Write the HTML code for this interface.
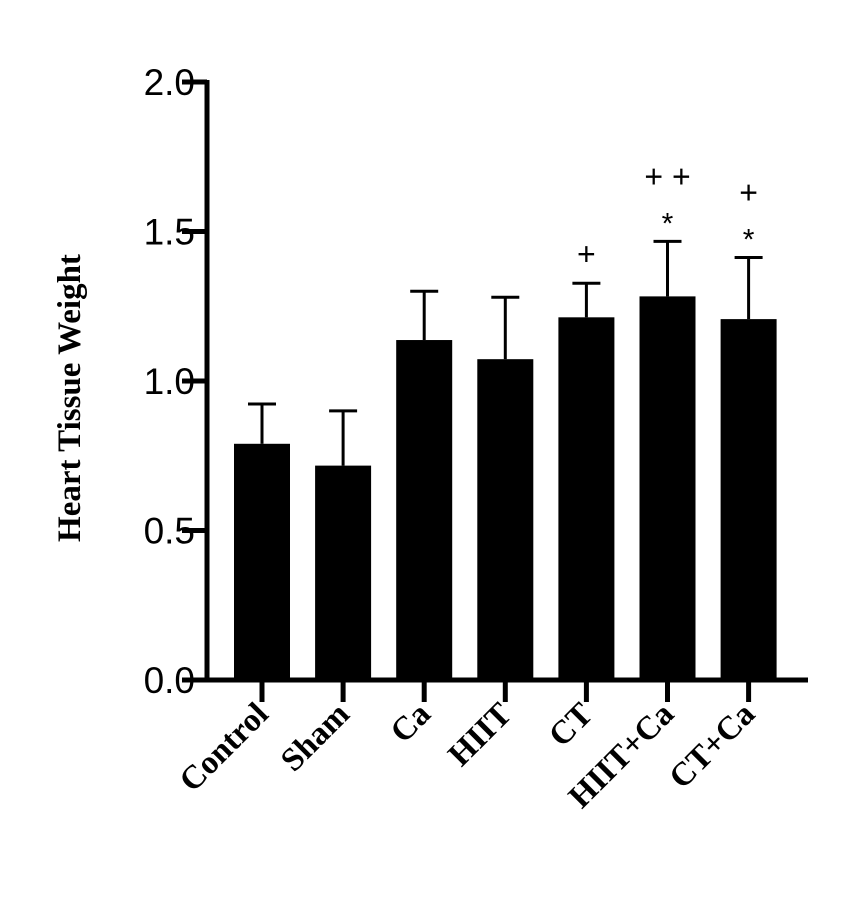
<!DOCTYPE html>
<html><head><meta charset="utf-8"><style>body{margin:0;background:#fff}svg{display:block}</style></head>
<body>
<svg id="chart" width="843" height="901" xmlns="http://www.w3.org/2000/svg"></svg>
<script>
const categories = ["Control","Sham","Ca","HIIT","CT","HIIT+Ca","CT+Ca"];
const means = [0.79,0.717,1.137,1.073,1.213,1.283,1.207];
const errors = [0.133,0.183,0.163,0.207,0.114,0.184,0.206];
const annotations = [[],[],[],[],["+"],["+  +","*"],["+","*"]];
const yTicks = [0,0.5,1,1.5,2];
const yTickLabels = ["0.0","0.5","1.0","1.5","2.0"];

const NS="http://www.w3.org/2000/svg";
const svg=document.getElementById('chart');
const y0=680, pxPerUnit=299, axisX=207, firstX=262, step=81.1, barW=56;
const yS=v=>y0-v*pxPerUnit;
const xS=i=>firstX+i*step;
function el(t,a,p){const e=document.createElementNS(NS,t);for(const k in a)e.setAttribute(k,a[k]);(p||svg).appendChild(e);return e;}

// axes
const ya=el('line',{x1:axisX,y1:yS(2)-2,x2:axisX,y2:y0+2,stroke:'#000','stroke-width':5});


const xa=el('line',{x1:axisX-2,y1:y0,x2:808,y2:y0,stroke:'#000','stroke-width':5});



yTicks.forEach((v,i)=>{
  const t=el('line',{x1:axisX-25,y1:yS(v),x2:axisX,y2:yS(v),stroke:'#000','stroke-width':5});
  
  
  const l=el('text',{x:axisX-12,y:yS(v)+13,'text-anchor':'end','font-family':'Liberation Sans, sans-serif','font-size':37});
  
  
  l.textContent=yTickLabels[i];
});

const yt=el('text',{transform:'translate(80,398) rotate(-90)','text-anchor':'middle','font-family':'Liberation Serif, serif','font-weight':'bold','font-size':33});


yt.textContent='Heart Tissue Weight';

categories.forEach((c,i)=>{
  const cx=xS(i);
  const eTop=yS(means[i]+errors[i]);
  const eb=el('line',{x1:cx,y1:yS(means[i]),x2:cx,y2:eTop,stroke:'#000','stroke-width':3});
  
  
  const cap=el('line',{x1:cx-14,y1:eTop,x2:cx+14,y2:eTop,stroke:'#000','stroke-width':3});
  
  
  const b=el('rect',{x:cx-barW/2,y:yS(means[i]),width:barW,height:y0-yS(means[i]),fill:'#000'});
  
  
  const tk=el('line',{x1:cx,y1:y0,x2:cx,y2:702,stroke:'#000','stroke-width':5});
  
  
  const lb=el('text',{transform:`translate(${cx+8},${716}) rotate(-45)`,'text-anchor':'end','font-family':'Liberation Serif, serif','font-weight':'bold','font-size':33});
  
  
  lb.textContent=c;
  annotations[i].forEach((a,j)=>{
    const n=annotations[i].length;
    const ay=eTop-18-(n-1-j)*36;
    const t=el('text',{x:cx,y:a==='*'?ay+10:ay,'text-anchor':'middle','font-family':'Liberation Sans, sans-serif','font-size':a==='*'?30:32,'xml:space':'preserve'});
    
    
    t.textContent=a;
  });
});
</script>
</body></html>
